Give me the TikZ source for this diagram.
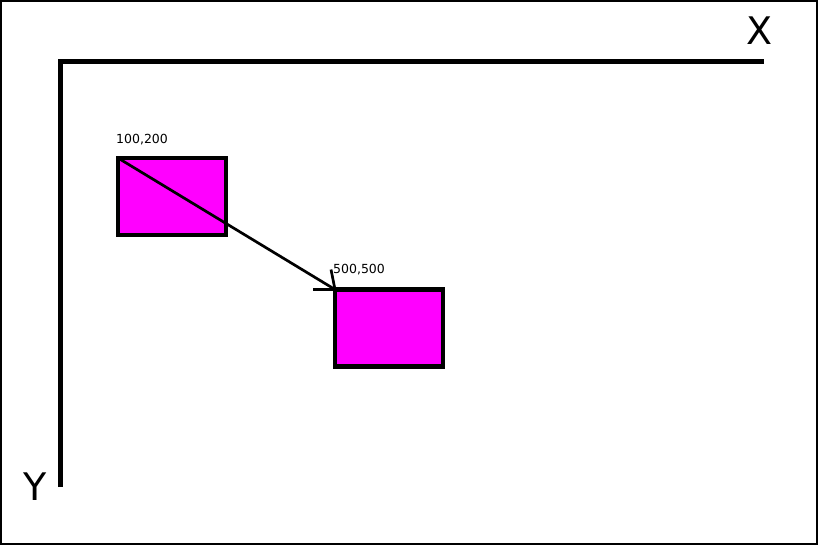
\documentclass[tikz,border=0pt]{standalone}
\usepackage{fontspec}
\setmainfont{DejaVu Sans}
\usepackage{tikz}
\definecolor{boxmagenta}{RGB}{255,0,255}
\tikzset{
  rectbox/.style={draw=black, fill=boxmagenta, line width=4.5pt, minimum width=108pt, minimum height=77pt, inner sep=0pt, outer sep=0pt},
  coordtext/.style={font=\fontsize{12.5pt}{14pt}\selectfont, inner sep=0pt},
  axistext/.style={font=\fontsize{38pt}{40pt}\selectfont, inner sep=0pt}
}

\begin{document}
\begin{tikzpicture}[x=1pt,y=-1pt]

\useasboundingbox (0,0) rectangle (818,545);
\draw [line width=2pt] (1,1) rectangle (817,544);

% axes
\coordinate (origin) at (60,62);
\coordinate (xend) at (764,62);
\coordinate (yend) at (60,487);
\draw [line width=5pt] (yend) -- (origin) -- (xend);
\node [axistext] (xlabel) at (760,31) {X};
\node [axistext] (ylabel) at (35,487) {Y};

% rectangles
\node [rectbox] (first) at (172,196.5) {};
\node [rectbox] (second) at (389,328) {};

\node [coordtext, anchor=west] (firstlabel) at (116,140) {100,200};
\node [coordtext, anchor=west] (secondlabel) at (333,270) {500,500};

% move
\draw [line width=2.7pt] (first.north west) -- (second.north west);
\draw [line width=2.7pt] (second.north west) -- ++(-22,0);
\draw [line width=2.7pt] (second.north west) -- ++(-4,-20);

\end{tikzpicture}
\end{document}
